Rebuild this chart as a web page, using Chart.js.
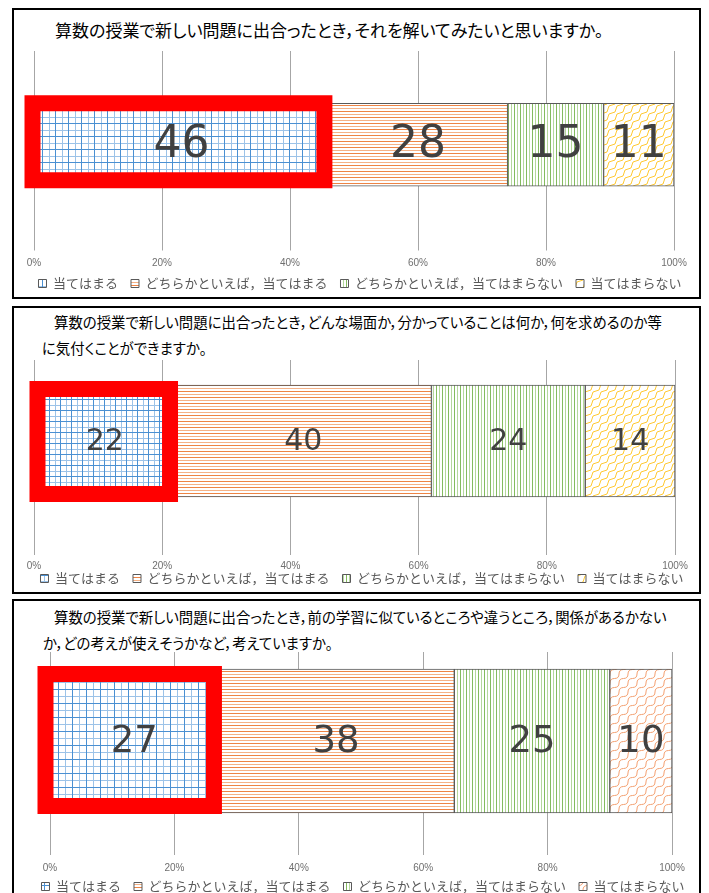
<!DOCTYPE html>
<html>
<head>
<meta charset="utf-8">
<script src="https://cdn.jsdelivr.net/npm/chart.js@4.4.0/dist/chart.umd.min.js"></script>
<style>
  body { margin: 0; width: 709px; height: 893px; overflow: hidden; background: #fff; position: relative;
         font-family: "Noto Sans CJK JP", sans-serif; }
  .panel { position: absolute; border: 2px solid #000; box-sizing: border-box; }
  .q { position: absolute; font-size: 14.4px; line-height: 26px; color: #000; white-space: nowrap;
       font-feature-settings: "palt"; }
  canvas { position: absolute; }
</style>
</head>
<body>
<div class="panel" style="left:12px;top:8px;width:689px;height:291px"></div>
<div class="panel" style="left:12px;top:306px;width:689px;height:288px"></div>
<div class="panel" style="left:12px;top:599px;width:689px;height:310px"></div>

<div class="q" id="q1l1" style="left:55px;top:17px;font-size:17px"></div>
<div class="q" id="q2l1" style="left:54px;top:309px"></div>
<div class="q" id="q2l2" style="left:42px;top:335px"></div>
<div class="q" id="q3l1" style="left:54px;top:604px"></div>
<div class="q" id="q3l2" style="left:43px;top:630px"></div>

<canvas id="chart1" width="680" height="255" style="left:16px;top:45px"></canvas>
<canvas id="chart2" width="682" height="240" style="left:16px;top:355px"></canvas>
<canvas id="chart3" width="684" height="256" style="left:16px;top:647px"></canvas>

<script>
// answer categories and percentages for each question
const answerLabels = ['当てはまる', 'どちらかといえば，当てはまる', 'どちらかといえば，当てはまらない', '当てはまらない'];
const q1Values = [46, 28, 15, 11];
const q2Values = [22, 40, 24, 14];
const q3Values = [27, 38, 25, 10];
const percentTicks = ['0%', '20%', '40%', '60%', '80%', '100%'];

const q1Text = ['算数の授業で新しい問題に出合ったとき，それを解いてみたいと思いますか。'];
const q2Text = ['算数の授業で新しい問題に出合ったとき，どんな場面か，分かっていることは何か，何を求めるのか等',
                'に気付くことができますか。'];
const q3Text = ['算数の授業で新しい問題に出合ったとき，前の学習に似ているところや違うところ，関係があるかない',
                'か，どの考えが使えそうかなど，考えていますか。'];

document.getElementById('q1l1').textContent = q1Text[0];
document.getElementById('q2l1').textContent = q2Text[0];
document.getElementById('q2l2').textContent = q2Text[1];
document.getElementById('q3l1').textContent = q3Text[0];
document.getElementById('q3l2').textContent = q3Text[1];

// --- hatch fills ---
function tile(w, h, draw) {
  const c = document.createElement('canvas');
  c.width = w; c.height = h;
  const g = c.getContext('2d');
  g.fillStyle = '#fff';
  g.fillRect(0, 0, w, h);
  draw(g, w, h);
  return g.createPattern(c, 'repeat');
}
function gridFill(n) {
  const m = Math.round(n / 2);
  return tile(n, n, (g, w, h) => {
    g.fillStyle = '#9cc3e8';
    g.fillRect(m, 0, 1, h); g.fillRect(0, m, w, 1);
    g.fillStyle = '#4a90d2';
    g.fillRect(0, 0, 1, h); g.fillRect(0, 0, w, 1);
  });
}
function hLines(n, dark, light) {
  const m = Math.round(n / 2);
  return tile(1, n, (g, w, h) => {
    g.fillStyle = light; g.fillRect(0, m, w, 1);
    g.fillStyle = dark; g.fillRect(0, 0, w, 1);
  });
}
function vLines(n, dark, light) {
  const m = Math.round(n / 2);
  return tile(n, 1, (g, w, h) => {
    g.fillStyle = light; g.fillRect(m, 0, 1, h);
    g.fillStyle = dark; g.fillRect(0, 0, 1, h);
  });
}
function waveFill(n, color) {
  return tile(n, n, (g, w, h) => {
    g.strokeStyle = color;
    g.lineWidth = 1;
    for (const ox of [-w, 0, w]) {
      g.beginPath();
      g.moveTo(ox, h);
      g.quadraticCurveTo(ox, h / 2, ox + w / 2, h / 2);
      g.quadraticCurveTo(ox + w, h / 2, ox + w, 0);
      g.stroke();
    }
  });
}

// --- plugins ---
const segmentLabels = {
  id: 'segmentLabels',
  afterDatasetsDraw(chart, args, opts) {
    const ctx = chart.ctx;
    ctx.save();
    ctx.font = opts.size + 'px "DejaVu Sans", Verdana, sans-serif';
    ctx.fillStyle = '#404040';
    ctx.textAlign = 'center';
    ctx.textBaseline = 'middle';
    chart.data.datasets.forEach((ds, i) => {
      const el = chart.getDatasetMeta(i).data[0];
      const p = el.getProps(['x', 'y', 'base'], true);
      ctx.fillText(String(ds.data[0]), (p.x + p.base) / 2, p.y + 1);
    });
    ctx.restore();
  }
};

// thick red frame round the first segment
const firstFrame = {
  id: 'firstFrame',
  afterDatasetsDraw(chart, args, opts) {
    const el = chart.getDatasetMeta(0).data[0];
    const p = el.getProps(['x', 'y', 'base', 'height'], true);
    const [l, t, r, b] = opts.outset;
    const w = opts.lineWidth;
    const x0 = p.base - l, x1 = p.x + r;
    const y0 = p.y - p.height / 2 - t, y1 = p.y + p.height / 2 + b;
    const ctx = chart.ctx;
    ctx.save();
    ctx.strokeStyle = '#ff0000';
    ctx.lineWidth = w;
    ctx.strokeRect(x0 + w / 2, y0 + w / 2, x1 - x0 - w, y1 - y0 - w);
    ctx.restore();
  }
};

// empty side axes only reserve space so the legend can use the full width
function spacer(position, width) {
  return {
    type: 'category',
    position: position,
    display: true,
    grid: { display: false },
    border: { display: false },
    ticks: { display: false },
    afterFit: (scale) => { scale.width = width; }
  };
}

function drawChart(id, values, fills, s) {
  new Chart(document.getElementById(id), {
    type: 'bar',
    data: {
      labels: [''],
      datasets: values.map((v, i) => ({
        label: answerLabels[i],
        data: [v],
        backgroundColor: fills[i],
        borderColor: '#595959',
        borderWidth: 1,
        borderSkipped: false,
        barThickness: s.thickness
      }))
    },
    options: {
      indexAxis: 'y',
      responsive: false,
      animation: false,
      events: [],
      layout: { padding: s.padding },
      scales: {
        x: {
          stacked: true,
          min: 0,
          max: 100,
          border: { display: false },
          grid: { color: '#a6a6a6', tickLength: s.tickLength, tickColor: '#a6a6a6' },
          ticks: {
            stepSize: 20,
            // mirrored with a negative padding: the labels sit below the tick marks
            // and are not clipped by the short axis box
            mirror: true,
            padding: -s.labelDrop,
            maxRotation: 0,
            autoSkip: false,
            color: '#6f6f6f',
            font: { family: '"Liberation Sans Narrow", "Liberation Sans", sans-serif', size: 10 },
            callback: (v, i) => percentTicks[i]
          },
          afterFit: (scale) => { scale.height = s.axisHeight; }
        },
        y: Object.assign(spacer('left', s.sides[0]), { stacked: true }),
        y2: spacer('right', s.sides[1])
      },
      plugins: {
        legend: {
          position: 'bottom',
          labels: {
            boxWidth: 8,
            boxHeight: 8,
            padding: 13,
            color: '#595959',
            font: { family: '"Noto Sans CJK JP", sans-serif', size: 13 }
          }
        },
        tooltip: { enabled: false },
        segmentLabels: { size: s.labelSize },
        firstFrame: { outset: s.frame, lineWidth: 16 }
      }
    },
    plugins: [segmentLabels, firstFrame]
  });
}

drawChart('chart1', q1Values,
  [gridFill(13), hLines(6, '#ee8444', '#f5b287'), vLines(6, '#84bb5f', '#b4d89c'), waveFill(8, '#ffc933')],
  { thickness: 83, padding: { left: 8, right: 0, top: 6, bottom: 0 }, sides: [10, 22],
    tickLength: 12, labelDrop: 30.5, axisHeight: 25.5, labelSize: 44, frame: [10, 8, 4, 2] });

drawChart('chart2', q2Values,
  [gridFill(11), hLines(6, '#ee8444', '#f5b287'), vLines(6, '#84bb5f', '#b4d89c'), waveFill(8, '#ffc933')],
  { thickness: 112, padding: { left: 10, right: 0, top: 5, bottom: 0 }, sides: [8, 23],
    tickLength: 33, labelDrop: 50, axisHeight: 37, labelSize: 30, frame: [5, 4, 3, 5] });

drawChart('chart3', q3Values,
  [gridFill(14), hLines(6, '#ee8444', '#f5b287'), vLines(6, '#84bb5f', '#b4d89c'), waveFill(9, '#f4a070')],
  { thickness: 144, padding: { left: 10, right: 0, top: 5, bottom: 0 }, sides: [24, 28],
    tickLength: 25, labelDrop: 44, axisHeight: 37, labelSize: 37, frame: [13, 3, 4, 1] });
</script>
</body>
</html>
